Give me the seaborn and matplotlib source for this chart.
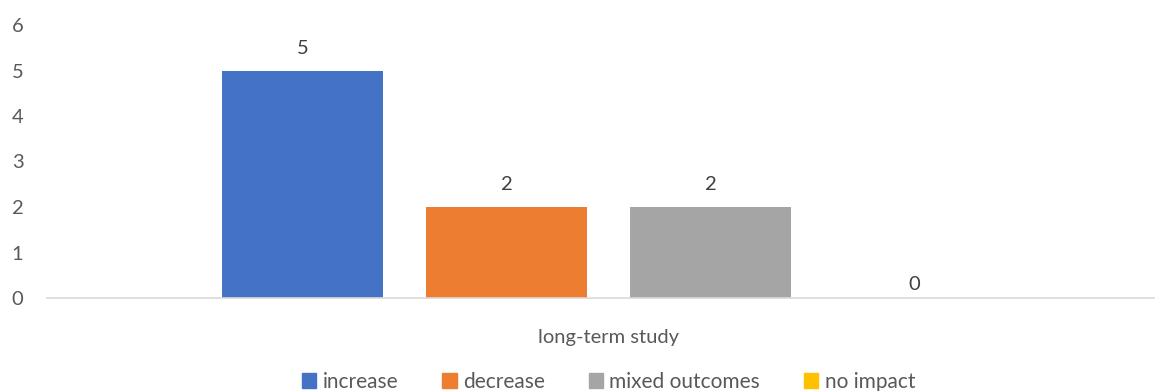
import pandas as pd
import matplotlib.pyplot as plt
import seaborn as sns

sns.set_style("white")
plt.rcParams['font.family'] = ['Lato', 'DejaVu Sans']

# data
category = ["long-term study"]
outcomes = ["increase", "decrease", "mixed outcomes", "no impact"]
counts = [5, 2, 2, 0]
colors = ["#4472C4", "#ED7D31", "#A5A5A5", "#FFC000"]
yticks = [0, 1, 2, 3, 4, 5, 6]

df = pd.DataFrame({"study": category * len(outcomes), "outcome": outcomes, "count": counts})

fig = plt.figure(figsize=(11.55, 3.91), dpi=100)
ax = fig.add_axes([47 / 1155, 93 / 391, 1 - 47 / 1155, 273 / 391])

sns.barplot(data=df, x="study", y="count", hue="outcome", hue_order=outcomes,
            palette=colors, width=0.8, gap=0.21, saturation=1, linewidth=0,
            ax=ax, legend=False)

ax.set_xlim(-0.5505, 0.5358)
ax.set_ylim(0, 6)
ax.set_yticks(yticks)
ax.set_xlabel("")
ax.set_ylabel("")
ax.tick_params(axis="both", colors="#595959", labelsize=14.5, length=0)
ax.tick_params(axis="y", pad=17)
ax.tick_params(axis="x", pad=22)
for s in ["top", "left", "right"]:
    ax.spines[s].set_visible(False)
ax.spines["bottom"].set_color("#D9D9D9")
ax.spines["bottom"].set_linewidth(1.2)

# data labels
for cont in ax.containers:
    for bar in cont:
        h = bar.get_height()
        off = 5 if h == 0 else 14
        ax.annotate(f"{h:g}", (bar.get_x() + bar.get_width() / 2, h),
                    xytext=(0, off), textcoords="offset pixels",
                    ha="center", va="bottom", fontsize=14.5, color="#404040")

handles = [plt.Rectangle((0, 0), 1, 1, color=c) for c in colors]
fig.legend(handles, outcomes, loc="center", bbox_to_anchor=(608.5 / 1155, 9 / 391),
           ncol=4, frameon=False, fontsize=15, labelcolor="#595959",
           handlelength=0.7, handleheight=0.7, handletextpad=0.3, columnspacing=2.1)

fig.savefig("out.png", dpi=100)
